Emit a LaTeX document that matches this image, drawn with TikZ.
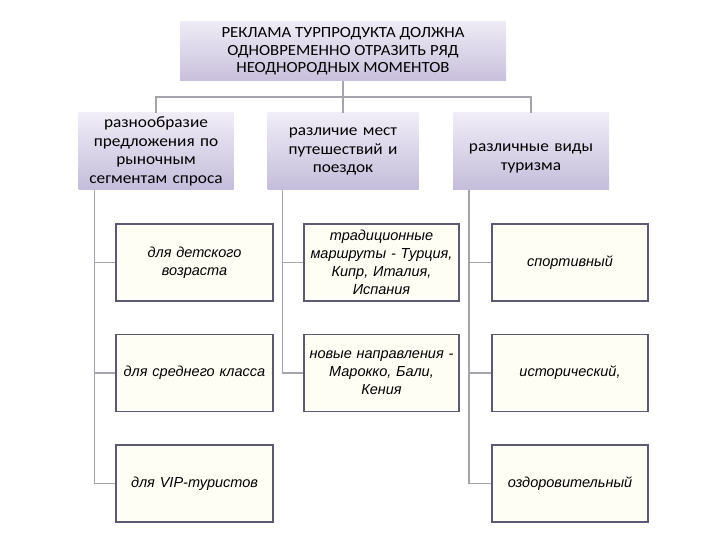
\documentclass[tikz,border=0pt]{standalone}
\usepackage{fontspec}
\setmainfont{Carlito}[FakeStretch=1.08]
\newfontfamily\lvlthree{Liberation Sans}[FakeStretch=1.0]
\begin{document}
\begin{tikzpicture}[x=1pt,y=-1pt,
  conn/.style={color={rgb,255:red,164;green,164;blue,172}, line width=1.6pt},
  topbox/.style={rectangle, minimum width=326pt, minimum height=59pt, inner sep=0pt,
     top color={rgb,255:red,238;green,235;blue,245}, bottom color={rgb,255:red,200;green,192;blue,220},
     align=center, font=\fontsize{15.5}{17.5}\selectfont},
  midbox/.style={rectangle, minimum width=155pt, minimum height=77pt, inner sep=0pt, text width=155pt,
     top color={rgb,255:red,240;green,237;blue,247}, bottom color={rgb,255:red,196;green,188;blue,218},
     align=center, font=\fontsize{16}{18.5}\selectfont},
  leafbox/.style={rectangle, minimum width=155pt, minimum height=77pt, inner sep=0pt, text width=155pt,
     fill={rgb,255:red,255;green,254;blue,245}, draw={rgb,255:red,92;green,90;blue,114}, line width=1.8pt,
     align=center, font=\lvlthree\itshape\fontsize{14.5}{18}\selectfont}
]
\useasboundingbox (0,0) rectangle (720,540);
\node[topbox] (top) at (343,51.5) {РЕКЛАМА ТУРПРОДУКТА ДОЛЖНА\\ОДНОВРЕМЕННО ОТРАЗИТЬ РЯД\\НЕОДНОРОДНЫХ МОМЕНТОВ};
\node[midbox] (b1) at (156,151.5) {разнообразие\\предложения по\\рыночным\\сегментам спроса};
\node[midbox, minimum width=151pt, text width=151pt] (b2) at (343,151.5) {различие мест\\путешествий и\\поездок};
\node[midbox, minimum width=156pt, text width=156pt] (b3) at (531,151.5) {\rule{0pt}{22pt}различные виды\\туризма};

\node[leafbox, minimum width=157pt, text width=157pt] (c11) at (194.5,262.5) {для детского\\возраста};
\node[leafbox, minimum width=157pt, text width=157pt] (c12) at (194.5,373) {для среднего класса};
\node[leafbox, minimum width=157pt, text width=157pt] (c13) at (194.5,483.5) {для VIP-туристов};

\node[leafbox] (c21) at (381.5,262.5) {традиционные\\маршруты - Турция,\\Кипр, Италия,\\Испания};
\node[leafbox] (c22) at (381.5,373) {новые направления -\\Марокко, Бали,\\Кения};

\node[leafbox, minimum width=156pt, text width=156pt] (c31) at (570,262.5) {спортивный};
\node[leafbox, minimum width=156pt, text width=156pt] (c32) at (570,373) {исторический,};
\node[leafbox, minimum width=156pt, text width=156pt] (c33) at (570,483.5) {оздоровительный};

\draw[conn] (top.south) -- (b2.north);
\draw[conn] (b1.north) -- ++(0,-16) -| (b3.north);

\coordinate (s1) at ([xshift=16pt]b1.south west);
\coordinate (s2) at ([xshift=15pt]b2.south west);
\coordinate (s3) at ([xshift=16pt]b3.south west);
\draw[conn] (s1) |- (c13.west);
\draw[conn] (s1) |- (c11.west);
\draw[conn] (s1) |- (c12.west);
\draw[conn] (s2) |- (c22.west);
\draw[conn] (s2) |- (c21.west);
\draw[conn] (s3) |- (c33.west);
\draw[conn] (s3) |- (c31.west);
\draw[conn] (s3) |- (c32.west);
\end{tikzpicture}
\end{document}
